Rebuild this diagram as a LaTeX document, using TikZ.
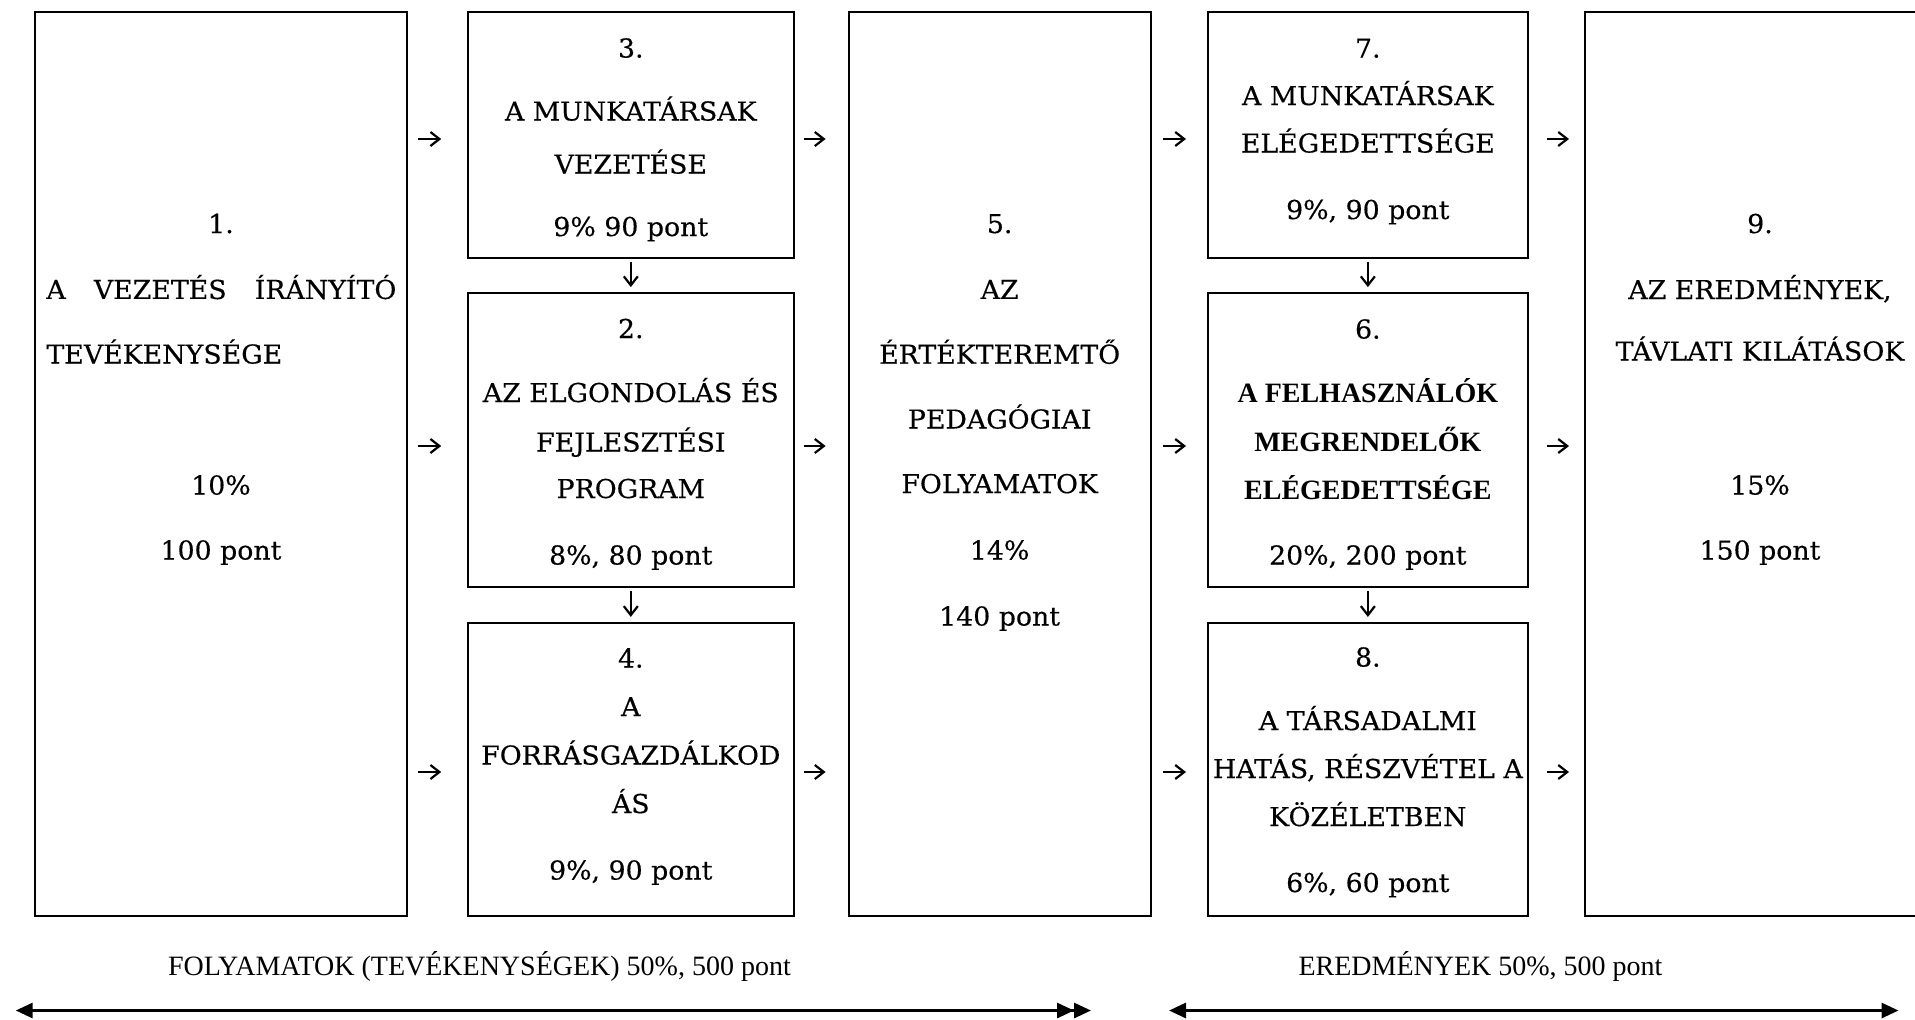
\documentclass[tikz,border=0pt]{standalone}
\usepackage{fontspec}
\setmainfont{DejaVu Serif}[FakeStretch=1.03,FakeBold=0.4]
\newfontfamily\tnr{Liberation Serif}
\usetikzlibrary{arrows.meta}
\begin{document}
\begin{tikzpicture}[x=0.5pt,y=-0.5pt,
  box/.style={draw,line width=1pt,rectangle,inner sep=0pt},
  ln/.style={inner sep=0pt,anchor=base,yshift=-4.75pt,font=\fontsize{13}{15}\selectfont},
  bl/.style={inner sep=0pt,anchor=base,yshift=-4.6pt,font=\tnr\bfseries\fontsize{14}{16}\selectfont},
  lab/.style={inner sep=0pt,anchor=base,yshift=-4.6pt,font=\tnr\fontsize{14}{16}\selectfont},
  harrow/.style={line width=1.1pt,-{Straight Barb[length=4.5pt,width=7pt]}},
  big/.style={line width=1.5pt},
  tri/.tip={Triangle[length=8.5pt,width=7.5pt]}]
\useasboundingbox (0,0) rectangle (1915,1019);

% boxes
\node[box,minimum width=185.65pt,minimum height=451.9pt] (b1) at (221.05,464.1) {};
\node[box,minimum width=163pt,minimum height=122.75pt] (b3) at (630.8,134.95) {};
\node[box,minimum width=163pt,minimum height=147.15pt] (b2) at (630.8,440.25) {};
\node[box,minimum width=163pt,minimum height=146.55pt] (b4) at (630.8,769.45) {};
\node[box,minimum width=150.85pt,minimum height=451.9pt] (b5) at (999.65,464.1) {};
\node[box,minimum width=159.95pt,minimum height=122.75pt] (b7) at (1367.85,134.95) {};
\node[box,minimum width=159.95pt,minimum height=147.15pt] (b6) at (1367.85,440.25) {};
\node[box,minimum width=159.95pt,minimum height=146.55pt] (b8) at (1367.85,769.45) {};
\node[box,minimum width=174.9pt,minimum height=451.9pt] (b9) at (1760.1,464.1) {};

% box 1
\node[ln] (t1-1) at (221,223.5) {1.};
\node[ln,anchor=base west] (t1-2) at (46,289.4) {\makebox[175pt][s]{A\hfill VEZETÉS\hfill ÍRÁNYÍTÓ}};
\node[ln,anchor=base west] (t1-3) at (46,354) {TEVÉKENYSÉGE};
\node[ln] (t1-4) at (221,485) {10\%};
\node[ln] (t1-5) at (221,550) {100 pont};

% box 3
\foreach \yy/\s [count=\i] in {48/{3.},111/{A MUNKATÁRSAK},164/{VEZETÉSE},226.5/{9\% 90 pont}}
  \node[ln] (t3-\i) at (630.8,\yy) {\s};
% box 2
\foreach \yy/\s [count=\i] in {328.5/{2.},392.5/{AZ ELGONDOLÁS ÉS},442/{FEJLESZTÉSI},488.5/{PROGRAM},555/{8\%, 80 pont}}
  \node[ln] (t2-\i) at (630.8,\yy) {\s};
% box 4
\foreach \yy/\s [count=\i] in {658/{4.},706.5/{A},755/{FORRÁSGAZDÁLKOD},803.5/{ÁS},870/{9\%, 90 pont}}
  \node[ln] (t4-\i) at (630.8,\yy) {\s};
% box 5
\foreach \yy/\s [count=\i] in {223.5/{5.},289.4/{AZ},354.2/{ÉRTÉKTEREMTŐ},419/{PEDAGÓGIAI},483.6/{FOLYAMATOK},550/{14\%},616/{140 pont}}
  \node[ln] (t5-\i) at (999.65,\yy) {\s};
% box 7
\foreach \yy/\s [count=\i] in {48/{7.},95.5/{A MUNKATÁRSAK},143/{ELÉGEDETTSÉGE},209.5/{9\%, 90 pont}}
  \node[ln] (t7-\i) at (1367.85,\yy) {\s};
% box 6
\node[ln] (t6-1) at (1367.85,329) {6.};
\foreach \yy/\s [count=\i from 2] in {393/{A FELHASZNÁLÓK},442/{MEGRENDELŐK},490/{ELÉGEDETTSÉGE}}
  \node[bl] (t6-\i) at (1367.85,\yy) {\s};
\node[ln] (t6-5) at (1367.85,555) {20\%, 200 pont};
% box 8
\foreach \yy/\s [count=\i] in {657/{8.},720.5/{A TÁRSADALMI},768.5/{HATÁS, RÉSZVÉTEL A},816.5/{KÖZÉLETBEN},882.5/{6\%, 60 pont}}
  \node[ln] (t8-\i) at (1367.85,\yy) {\s};
% box 9
\foreach \yy/\s [count=\i] in {223.5/{9.},289.5/{AZ EREDMÉNYEK,},351/{TÁVLATI KILÁTÁSOK},485/{15\%},550/{150 pont}}
  \node[ln] (t9-\i) at (1760,\yy) {\s};

% horizontal arrows
\coordinate (r1) at (0,139);
\coordinate (r2) at (0,446);
\coordinate (r3) at (0,772);
\foreach \r in {r1,r2,r3}{
  \draw[harrow,shorten <=5.3pt,shorten >=12.8pt] (b1.east |- \r) -- (b3.west |- \r);
  \draw[harrow,shorten <=4.35pt,shorten >=11.1pt] (b3.east |- \r) -- (b5.west |- \r);
  \draw[harrow,shorten <=5.75pt,shorten >=10.45pt] (b5.east |- \r) -- (b7.west |- \r);
  \draw[harrow,shorten <=9.1pt,shorten >=7.6pt] (b7.east |- \r) -- (b9.west |- \r);
}
% vertical arrows
\draw[harrow,shorten <=1.5pt,shorten >=2.5pt] (b3) -- (b2);
\draw[harrow,shorten <=1.5pt,shorten >=2.5pt] (b2) -- (b4);
\draw[harrow,shorten <=1.5pt,shorten >=2.5pt] (b7) -- (b6);
\draw[harrow,shorten <=1.5pt,shorten >=2.5pt] (b6) -- (b8);

% bottom labels
\node[lab] (lab1) at (479.5,966) {FOLYAMATOK (TEVÉKENYSÉGEK) 50\%, 500 pont};
\node[lab] (lab2) at (1480.5,966) {EREDMÉNYEK 50\%, 500 pont};

% bottom arrows
\coordinate (la) at (15.7,1010.5);
\coordinate (lb) at (1091,1010.5);
\coordinate (ra) at (1169,1010.5);
\coordinate (rb) at (1898.5,1010.5);
\draw[big,{tri}-{tri[]tri}] (la) -- (lb);
\draw[big,{tri}-{tri}] (ra) -- (rb);
\end{tikzpicture}
\end{document}
